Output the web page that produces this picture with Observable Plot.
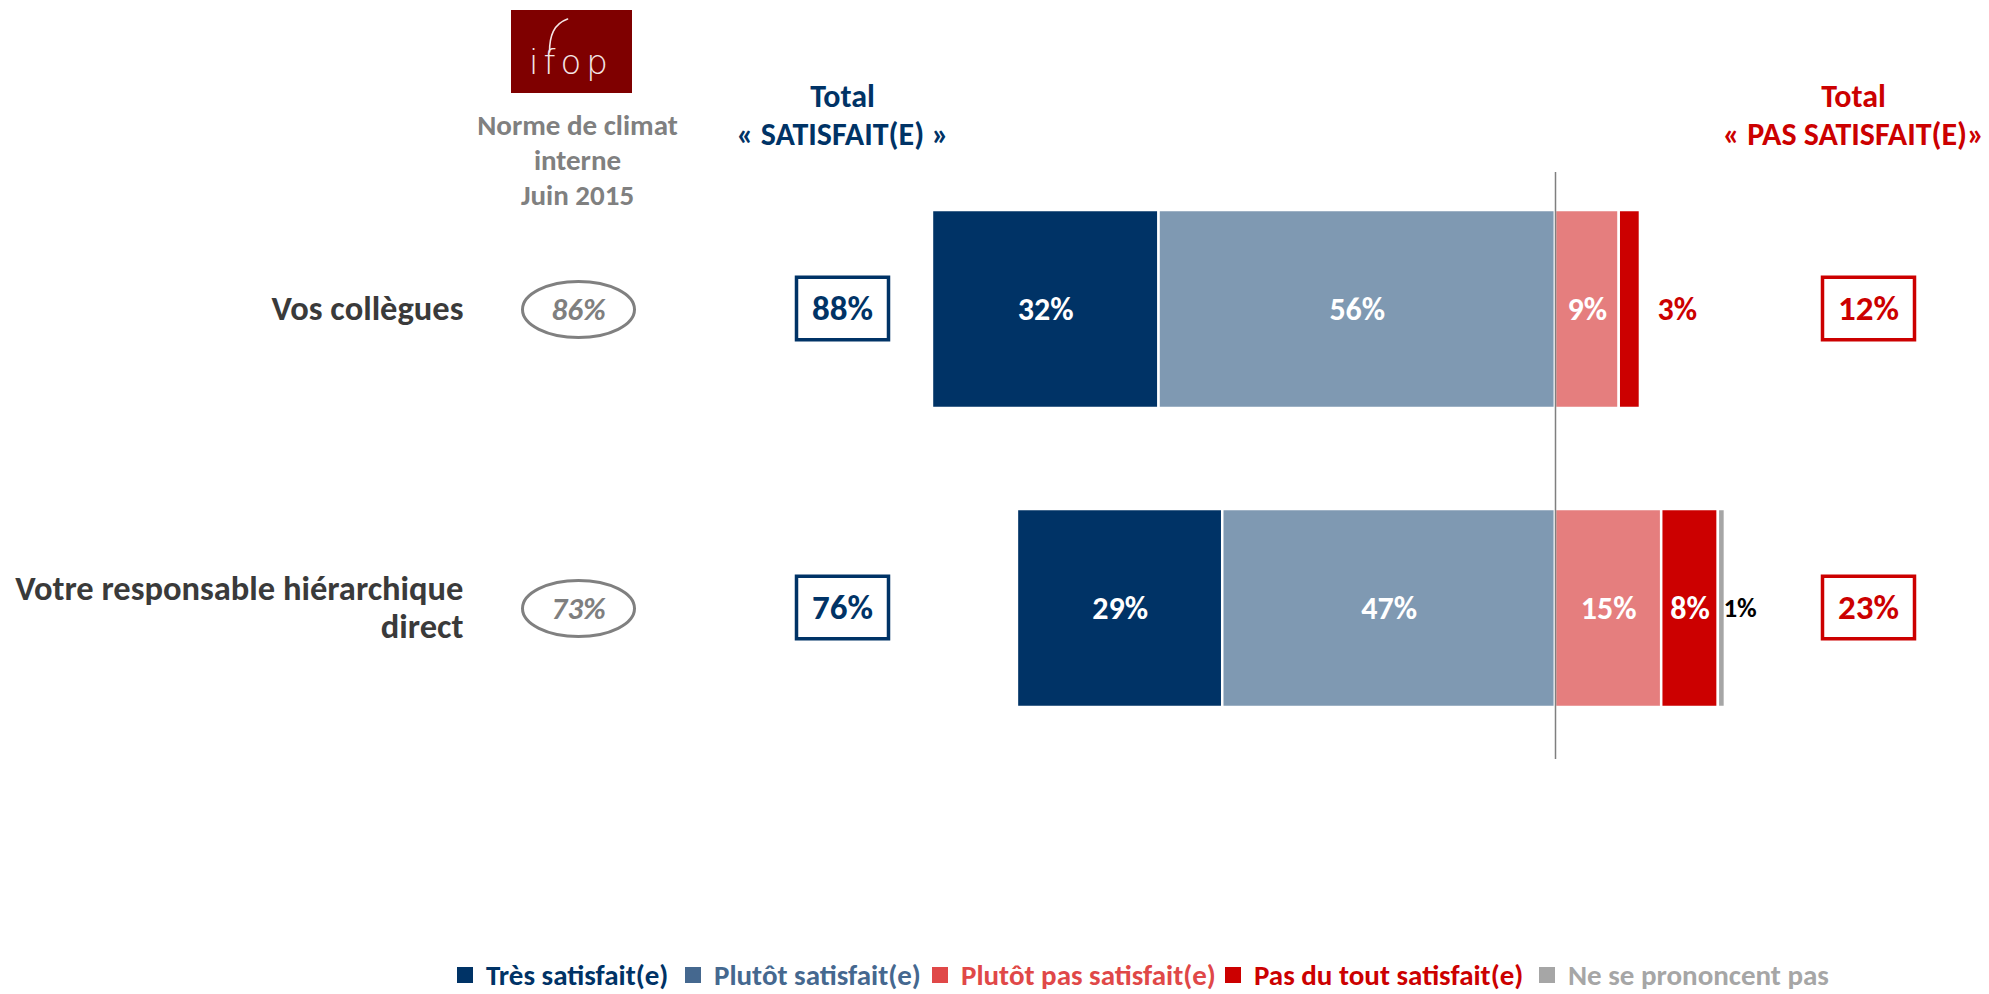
<!DOCTYPE html>
<html>
<head>
<meta charset="utf-8">
<script src="https://cdn.jsdelivr.net/npm/d3@7"></script>
<script src="https://cdn.jsdelivr.net/npm/@observablehq/plot@0.6"></script>
<style>
  html, body { margin: 0; padding: 0; background: #fff; }
  body { width: 1989px; font-family: Carlito, Calibri, Lato, sans-serif; }
  #legend { position: relative; width: 1989px; height: 39px; }
  .li { position: absolute; top: 0; height: 39px; display: flex; align-items: center; font-weight: bold; font-size: 29px; white-space: nowrap; }
  .sw { width: 16px; height: 16px; margin-right: 13px; }
</style>
</head>
<body>
<div id="chart"></div>
<div id="legend"></div>
<script>
// ---------- data ----------
const categories = ["Vos collègues", "Votre responsable hiérarchique direct"];
const categoryLabels = ["Vos collègues", "Votre responsable hiérarchique\ndirect"];
const tresSatisfait = [32, 29];
const plutotSatisfait = [56, 47];
const plutotPasSatisfait = [9, 15];
const pasDuToutSatisfait = [3, 8];
const nePrononcentPas = [0, 1];
const totalSatisfait = [88, 76];
const totalPasSatisfait = [12, 23];
const normeJuin2015 = [86, 73];
const seriesNames = ["Très satisfait(e)", "Plutôt satisfait(e)", "Plutôt pas satisfait(e)", "Pas du tout satisfait(e)", "Ne se prononcent pas"];
const seriesColors = ["#003366", "#7f99b2", "#e57e7e", "#cc0000", "#a6a6a6"];
const legendColors = ["#003366", "#45688f", "#e04848", "#cc0000", "#a6a6a6"];
const headerSatisfait = "Total\n« SATISFAIT(E) »";
const headerPasSatisfait = "Total\n« PAS SATISFAIT(E)»";
const normeHeader = "Norme de climat\ninterne\nJuin 2015";

// ---------- derived tables ----------
const segments = [];
categories.forEach((cat, i) => {
  const parts = [
    [seriesNames[0], -(tresSatisfait[i] + plutotSatisfait[i]), -plutotSatisfait[i], tresSatisfait[i]],
    [seriesNames[1], -plutotSatisfait[i], 0, plutotSatisfait[i]],
    [seriesNames[2], 0, plutotPasSatisfait[i], plutotPasSatisfait[i]],
    [seriesNames[3], plutotPasSatisfait[i], plutotPasSatisfait[i] + pasDuToutSatisfait[i], pasDuToutSatisfait[i]],
    [seriesNames[4], plutotPasSatisfait[i] + pasDuToutSatisfait[i], plutotPasSatisfait[i] + pasDuToutSatisfait[i] + nePrononcentPas[i], nePrononcentPas[i]]
  ];
  for (const [series, x1, x2, v] of parts) {
    if (v > 0) segments.push({cat, series, x1, x2, v, label: v + "%"});
  }
});
const rows = categories.map((cat, i) => ({
  cat, label: categoryLabels[i],
  norme: normeJuin2015[i] + "%",
  sat: totalSatisfait[i] + "%",
  pas: totalPasSatisfait[i] + "%"
}));
const inside = segments.filter(d => d.v >= 5);
const outsideRed = segments.filter(d => d.v < 5 && d.series === seriesNames[3]);
const outsideGray = segments.filter(d => d.v < 5 && d.series === seriesNames[4]);

// ---------- custom symbols ----------
const ellipseSymbol = {draw(ctx, size) {
  const rx = Math.sqrt(size / Math.PI), ry = rx * 0.5, k = 0.5523;
  ctx.moveTo(rx, 0);
  ctx.bezierCurveTo(rx, ry * k, rx * k, ry, 0, ry);
  ctx.bezierCurveTo(-rx * k, ry, -rx, ry * k, -rx, 0);
  ctx.bezierCurveTo(-rx, -ry * k, -rx * k, -ry, 0, -ry);
  ctx.bezierCurveTo(rx * k, -ry, rx, -ry * k, rx, 0);
  ctx.closePath();
}};
const boxSymbol = {draw(ctx, size) {
  const r = Math.sqrt(size / Math.PI), h = r * 0.68;
  ctx.rect(-r, -h, 2 * r, 2 * h);
}};

const FONT = "Carlito, Calibri, Lato, sans-serif";
const W = 1989, H = 955;

const plot = Plot.plot({
  width: W, height: H, margin: 0,
  x: {domain: [-100, 50], range: [847, 1909], axis: null},
  y: {domain: categories, range: [108, 809], paddingInner: 0.337, paddingOuter: 0.337, axis: null},
  color: {domain: seriesNames, range: seriesColors},
  style: {fontFamily: FONT, background: "white"},
  marks: [
    // headers
    Plot.text([headerSatisfait], {frameAnchor: "top-left", dx: 842, dy: 113, text: d => d, textAnchor: "middle", lineAnchor: "middle", lineHeight: 1.19, fill: "#003366", fontSize: 32, fontWeight: "bold"}),
    Plot.text([headerPasSatisfait], {frameAnchor: "top-left", dx: 1853, dy: 113, text: d => d, textAnchor: "middle", lineAnchor: "middle", lineHeight: 1.19, fill: "#cc0000", fontSize: 32, fontWeight: "bold"}),
    Plot.text([normeHeader], {frameAnchor: "top-left", dx: 577, dy: 158, text: d => d, textAnchor: "middle", lineAnchor: "middle", lineHeight: 1.21, fill: "#808080", fontSize: 29, fontWeight: "bold"}),
    // bars
    Plot.barX(segments, {x1: "x1", x2: "x2", y: "cat", fill: "series", stroke: "white", strokeWidth: 2.5}),
    Plot.ruleX([0], {stroke: "#7f7f7f", strokeWidth: 1.5, insetTop: 172, insetBottom: H - 759}),
    Plot.text(inside, {x: d => (d.x1 + d.x2) / 2, y: "cat", text: "label", fill: "white", fontSize: 32, fontWeight: "bold"}),
    Plot.text(outsideRed, {x: "x2", y: "cat", text: "label", textAnchor: "start", dx: 17, fill: "#cc0000", fontSize: 32, fontWeight: "bold"}),
    Plot.text(outsideGray, {x: "x2", y: "cat", text: "label", textAnchor: "start", dx: -2, fill: "#000000", fontSize: 27, fontWeight: "bold"}),
    // category labels
    Plot.text(rows, {frameAnchor: "left", dx: 463, dy: -2, y: "cat", text: "label", textAnchor: "end", lineHeight: 1.12, fill: "#3a3a3a", fontSize: 34.5, fontWeight: "bold"}),
    // norme ellipses
    Plot.dot(rows, {frameAnchor: "left", dx: 578, dy: 0, y: "cat", symbol: ellipseSymbol, r: 56, stroke: "#808080", strokeWidth: 3, fill: "white"}),
    Plot.text(rows, {frameAnchor: "left", dx: 578, dy: 1, y: "cat", text: "norme", textAnchor: "middle", fill: "#7f7f7f", fontSize: 31, fontWeight: "bold", fontStyle: "italic"}),
    // total boxes
    Plot.dot(rows, {frameAnchor: "left", dx: 842, dy: -1, y: "cat", symbol: boxSymbol, r: 46, stroke: "#003366", strokeWidth: 3.5, fill: "white"}),
    Plot.text(rows, {frameAnchor: "left", dx: 842, dy: -1, y: "cat", text: "sat", textAnchor: "middle", fill: "#003366", fontSize: 35, fontWeight: "bold"}),
    Plot.dot(rows, {frameAnchor: "left", dx: 1868, dy: -1, y: "cat", symbol: boxSymbol, r: 46, stroke: "#cc0000", strokeWidth: 3.5, fill: "white"}),
    Plot.text(rows, {frameAnchor: "left", dx: 1868, dy: -1, y: "cat", text: "pas", textAnchor: "middle", fill: "#cc0000", fontSize: 35, fontWeight: "bold"})
  ]
});
document.getElementById("chart").appendChild(plot);

// logo
const svg = d3.select(plot);
const logo = svg.append("g");
logo.append("rect").attr("x", 511).attr("y", 10).attr("width", 121).attr("height", 83).attr("fill", "#7f0000");
const logoText = logo.append("text").attr("x", 571).attr("y", 74).attr("text-anchor", "middle")
  .attr("fill", "#f4e6e6").attr("font-family", "'DejaVu Sans', sans-serif").attr("font-weight", 200)
  .attr("font-size", 34).attr("letter-spacing", 5).text("ifop");
let fx = 552;
try { fx = logoText.node().getStartPositionOfChar(1).x; } catch (e) {}
logo.append("path").attr("d", `M${fx + 6},52 C${fx + 6},36 ${fx + 10},24 ${fx + 24},19`)
  .attr("fill", "none").attr("stroke", "#f4e6e6").attr("stroke-width", 1.6).attr("stroke-linecap", "round");

// legend
const legend = d3.select("#legend");
const legendLeft = [457, 685, 932, 1225, 1539];
seriesNames.forEach((name, i) => {
  const item = legend.append("div").attr("class", "li").style("left", legendLeft[i] + "px").style("color", legendColors[i]);
  item.append("div").attr("class", "sw").style("background", legendColors[i]);
  item.append("span").text(name);
});
</script>
</body>
</html>
